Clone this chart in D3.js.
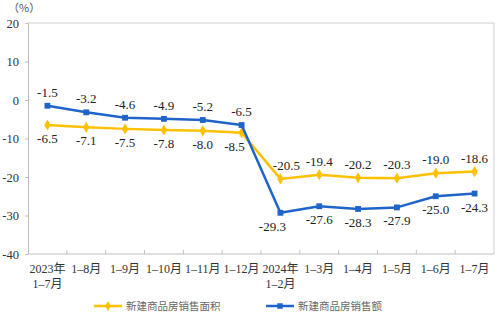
<!DOCTYPE html>
<html>
<head>
<meta charset="utf-8">
<script src="https://cdn.jsdelivr.net/npm/d3@7"></script>
<style>
  html, body { margin: 0; padding: 0; background: #fff; }
  svg { display: block; }
  text { font-family: "Liberation Serif", "Noto Sans CJK SC", serif; }
</style>
</head>
<body>
<svg id="chart" width="504" height="322"></svg>
<script>
// Cumulative year-on-year growth (%), Jul 2023 – Jul 2024
const categories = [
  ["2023年", "1–7月"], ["1–8月"], ["1–9月"], ["1–10月"], ["1–11月"], ["1–12月"],
  ["2024年", "1–2月"], ["1–3月"], ["1–4月"], ["1–5月"], ["1–6月"], ["1–7月"]
];
const areaValues  = [-6.5, -7.1, -7.5, -7.8, -8.0, -8.5, -20.5, -19.4, -20.2, -20.3, -19.0, -18.6];
const salesValues = [-1.5, -3.2, -4.6, -4.9, -5.2, -6.5, -29.3, -27.6, -28.3, -27.9, -25.0, -24.3];
const yTicks = [20, 10, 0, -10, -20, -30, -40];
const seriesNames = ["新建商品房销售面积", "新建商品房销售额"];

const YELLOW = "#FFC000";
const BLUE = "#1F64C8";
const AXIS = "#BFBFBF";

// plain hyphen for negatives
const fmt1 = d => d.toFixed(1);

const svg = d3.select("#chart");
const margin = { left: 28, right: 10, top: 23, bottom: 68 };
const W = 504, H = 322;
const x = d3.scaleBand().domain(d3.range(categories.length))
  .range([margin.left, W - margin.right]).padding(0);
const y = d3.scaleLinear().domain([-40, 20]).range([H - margin.bottom, margin.top]);
const cx = i => x(i) + x.bandwidth() / 2;

// plot frame (top & right)
svg.append("path")
  .attr("d", `M${margin.left},${y(20)}H${W - margin.right}V${y(-40)}`)
  .attr("fill", "none").attr("stroke", "#D0D0D0").attr("stroke-width", 1);

// y axis
const yAxis = d3.axisLeft(y).tickValues(yTicks).tickSize(3).tickPadding(6).tickFormat(d => String(d));
const gy = svg.append("g").attr("transform", `translate(${margin.left},0)`).call(yAxis);
gy.select(".domain").attr("stroke", AXIS);
gy.selectAll(".tick line").attr("stroke", AXIS);
gy.selectAll(".tick text").attr("font-size", 12.5).attr("fill", "#333")
  .style("font-family", "'Liberation Serif', serif");

// x axis: baseline plus boundary ticks pointing up
const gx = svg.append("g");
gx.append("line")
  .attr("x1", margin.left).attr("x2", W - margin.right)
  .attr("y1", y(-40)).attr("y2", y(-40))
  .attr("stroke", AXIS);
gx.selectAll("line.tk").data(d3.range(1, categories.length)).join("line")
  .attr("class", "tk")
  .attr("x1", i => x(i)).attr("x2", i => x(i))
  .attr("y1", y(-40)).attr("y2", y(-40) - 4)
  .attr("stroke", AXIS);
gx.selectAll("text").data(categories).join("text")
  .attr("text-anchor", "middle")
  .attr("font-size", 12)
  .attr("fill", "#333")
  .each(function (lines, i) {
    const t = d3.select(this);
    lines.forEach((s, k) => {
      t.append("tspan").attr("x", cx(i)).attr("y", 273 + k * 15).text(s);
    });
  });

// unit label
svg.append("text").attr("x", 8).attr("y", 12).attr("font-size", 11)
  .attr("fill", "#555").style("font-family", "'Noto Sans CJK SC', sans-serif").text("（%）");

const line = d3.line().x((d, i) => cx(i)).y(d => y(d));

function drawSeries(values, color, shape) {
  svg.append("path").datum(values)
    .attr("d", line).attr("fill", "none")
    .attr("stroke", color).attr("stroke-width", 2.5).attr("stroke-linejoin", "round");
  svg.append("g").selectAll("path").data(values).join("path")
    .attr("transform", (d, i) => `translate(${cx(i)},${y(d)})`)
    .attr("d", d3.symbol().type(shape).size(shape === d3.symbolSquare ? 34 : 36)())
    .attr("fill", color);
}
drawSeries(areaValues, YELLOW, d3.symbolDiamond);
drawSeries(salesValues, BLUE, d3.symbolSquare);

// data labels: 2023 sales above / area below; 2024 area above / sales below.
// Labels next to the steep drop are nudged sideways to clear the lines.
function labels(values, above, nudge) {
  svg.append("g").selectAll("text").data(values).join("text")
    .attr("x", (d, i) => cx(i) + (nudge[i] || 0))
    .attr("y", (d, i) => y(d) + (above(i) ? -9 : 18))
    .attr("text-anchor", "middle")
    .attr("font-size", 13)
    .attr("fill", "#222")
    .text(fmt1);
}
labels(salesValues, i => i < 6, { 6: -8 });
labels(areaValues, i => i >= 6, { 5: -7, 6: 6 });

// legend
const legend = [
  { name: seriesNames[0], color: YELLOW, shape: d3.symbolDiamond, x: 94 },
  { name: seriesNames[1], color: BLUE, shape: d3.symbolSquare, x: 266 }
];
const ly = 306;
legend.forEach(l => {
  svg.append("line").attr("x1", l.x).attr("x2", l.x + 28).attr("y1", ly).attr("y2", ly)
    .attr("stroke", l.color).attr("stroke-width", 2.5);
  svg.append("path").attr("transform", `translate(${l.x + 14},${ly})`)
    .attr("d", d3.symbol().type(l.shape).size(30)()).attr("fill", l.color);
  svg.append("text").attr("x", l.x + 32).attr("y", ly + 4)
    .attr("font-size", 10.5).attr("fill", "#666")
    .style("font-family", "'Noto Sans CJK SC', sans-serif")
    .text(l.name);
});
</script>
</body>
</html>
